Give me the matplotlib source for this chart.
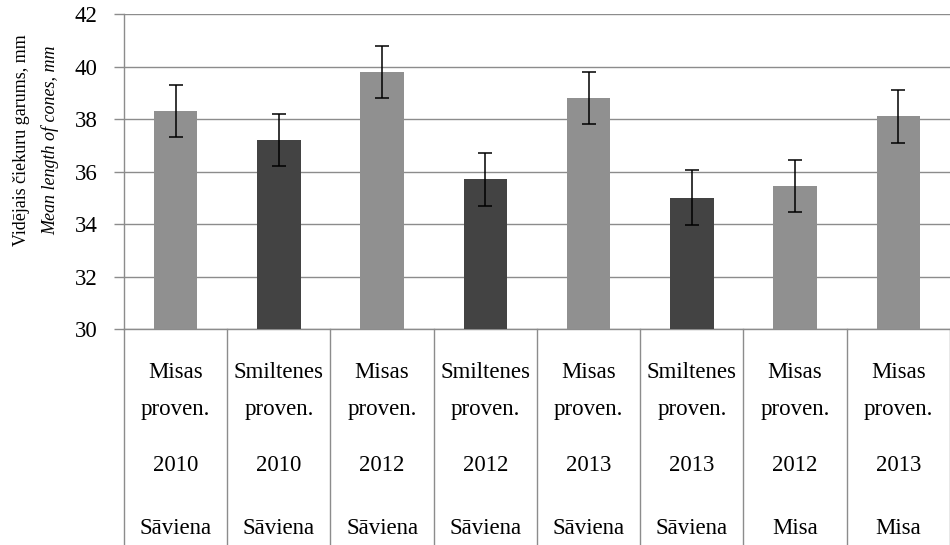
import matplotlib.pyplot as plt
import matplotlib.transforms as mtransforms
import numpy as np

# data
provenance = ["Misas", "Smiltenes", "Misas", "Smiltenes", "Misas", "Smiltenes", "Misas", "Misas"]
years = ["2010", "2010", "2012", "2012", "2013", "2013", "2012", "2013"]
sites = ["Sāviena", "Sāviena", "Sāviena", "Sāviena", "Sāviena", "Sāviena", "Misa", "Misa"]
mean_length = [38.3, 37.2, 39.8, 35.7, 38.8, 35.0, 35.45, 38.1]
err = [1.0, 1.0, 1.0, 1.0, 1.0, 1.05, 1.0, 1.0]
yticks = [30, 32, 34, 36, 38, 40, 42]

light = "#909090"
dark = "#434343"
grid_col = "#8c8c8c"

plt.rcParams['font.family'] = ['Liberation Serif', 'DejaVu Serif']

fig = plt.figure(figsize=(9.5, 5.45), dpi=100)
ax = fig.add_axes([0.1305, 0.3963, 0.8695, 0.5780])

x = np.arange(len(mean_length))
colors = [dark if p == "Smiltenes" else light for p in provenance]
ax.bar(x, mean_length, width=0.42, color=colors, bottom=0, zorder=3)
ax.errorbar(x, mean_length, yerr=err, fmt='none', ecolor='black',
            elinewidth=1.1, capsize=5, capthick=1.1, zorder=4)

ax.set_ylim(30, 42)
ax.set_xlim(-0.5, len(x) - 0.5)
ax.set_yticks(yticks)
ax.set_yticklabels([str(t) for t in yticks], fontfamily='Liberation Serif',
                   fontsize=16.5)
ax.yaxis.grid(True, color=grid_col, linewidth=1.0, zorder=0)
ax.set_xticks([])
ax.tick_params(axis='y', direction='out', length=7, width=1, color=grid_col,
               pad=12)
for s in ['top', 'right']:
    ax.spines[s].set_visible(False)
for s in ['left', 'bottom']:
    ax.spines[s].set_color(grid_col)
    ax.spines[s].set_linewidth(1.0)

# category table below the axis
trans = mtransforms.blended_transform_factory(ax.transData, ax.transAxes)
table_bottom = -0.69
for xb in np.arange(-0.5, len(x) + 0.5, 1.0):
    ax.plot([xb, xb], [0, table_bottom], transform=trans, color=grid_col,
            linewidth=1.0, clip_on=False)

rows = [(provenance, -0.137), (["proven."] * len(x), -0.257),
        (years, -0.432), (sites, -0.632)]
for labels, yy in rows:
    for xi, lab in zip(x, labels):
        ax.text(xi, yy, lab, transform=trans, ha='center', va='center',
                fontsize=16.5)

fig.text(0.023, 0.743, "Vidējais čiekuru garums, mm", rotation=90,
         ha='center', va='center', fontsize=13)
fig.text(0.053, 0.743, "Mean length of cones, mm", rotation=90,
         ha='center', va='center', fontsize=13, style='italic')

fig.savefig("out.png", dpi=100)
